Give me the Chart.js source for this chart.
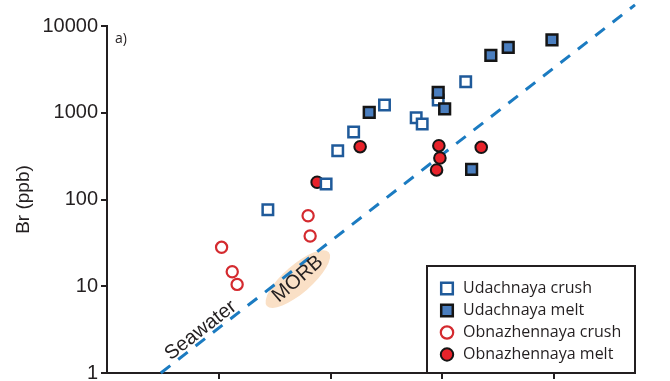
<!DOCTYPE html>
<html>
<head>
<meta charset="utf-8">
<script src="https://cdn.jsdelivr.net/npm/chart.js@4/dist/chart.umd.min.js"></script>
<style>
  html, body { margin: 0; padding: 0; background: #fff; }
  #wrap { width: 670px; height: 381px; }
</style>
</head>
<body>
<div id="wrap"><canvas id="c" width="670" height="381"></canvas></div>
<script>
// Cl (ppm) on x, Br (ppb) on y
const udachnayaCrushCl = [2.75, 9.13, 11.6, 16.1, 30.4, 58.4, 66.1, 91.9, 162];
const udachnayaCrushBr = [76, 151, 365, 600, 1230, 877, 742, 1400, 2280];

const udachnayaMeltCl = [22.2, 91.9, 105, 183, 272, 389, 958];
const udachnayaMeltBr = [1010, 1720, 1105, 223, 4600, 5680, 6900];

const obnazhCrushCl = [1.06, 1.32, 1.46, 6.3, 6.57];
const obnazhCrushBr = [28.1, 14.7, 10.5, 65, 37.9];

const obnazhMeltCl = [7.59, 18.4, 93.2, 95.2, 88.9, 223];
const obnazhMeltBr = [158, 406, 417, 301, 219, 400];

// seawater Br/Cl reference line end points
const seawaterCl = [0.303, 5300];
const seawaterBr = [1, 17500];

const yTickValues = [1, 10, 100, 1000, 10000];
const yTickLabels = ['1', '10', '100', '1000', '10000'];
const xTickValues = [1, 10, 100, 1000];

const seriesNames = ['Udachnaya crush', 'Udachnaya melt', 'Obnazhennaya crush', 'Obnazhennaya melt'];

// label anchors in data units
const morbAnchor = [5.1, 12.1];
const seawaterAnchor = [0.69, 3.1];

const INK = '#231f20';

function pairs(xs, ys) { return xs.map((v, i) => ({ x: v, y: ys[i] })); }

const styles = [
  { shape: 'rect',   fill: '#ffffff', stroke: '#1f5a9a', width: 2.5, r: 7.4 },
  { shape: 'rect',   fill: '#4a7ebf', stroke: '#151515', width: 2.5, r: 7.6 },
  { shape: 'circle', fill: '#ffffff', stroke: '#d42a2f', width: 2.2, r: 5.6 },
  { shape: 'circle', fill: '#e8232b', stroke: '#151515', width: 2.0, r: 5.8 }
];
const seriesData = [
  pairs(udachnayaCrushCl, udachnayaCrushBr),
  pairs(udachnayaMeltCl, udachnayaMeltBr),
  pairs(obnazhCrushCl, obnazhCrushBr),
  pairs(obnazhMeltCl, obnazhMeltBr)
];
// drawing order: Udachnaya melt on top, then Udachnaya crush, Obnazhennaya melt, Obnazhennaya crush
const drawOrder = [1, 0, 3, 2];

const datasets = seriesData.map((d, i) => ({
  label: seriesNames[i],
  data: d,
  pointStyle: styles[i].shape,
  pointRadius: styles[i].r,
  pointBackgroundColor: styles[i].fill,
  pointBorderColor: styles[i].stroke,
  pointBorderWidth: styles[i].width,
  showLine: false,
  order: drawOrder[i]
}));
datasets.push({
  label: 'Seawater',
  data: pairs(seawaterCl, seawaterBr),
  showLine: true,
  borderColor: '#1b7bc1',
  borderWidth: 3,
  borderDash: [12, 10],
  pointRadius: 0,
  fill: false,
  clip: false,
  order: 10
});

function drawMarker(ctx, s, x, y, r) {
  ctx.save();
  ctx.beginPath();
  if (s.shape === 'rect') {
    const h = Math.SQRT1_2 * r;
    ctx.rect(x - h, y - h, 2 * h, 2 * h);
  } else {
    ctx.arc(x, y, r, 0, Math.PI * 2);
  }
  ctx.fillStyle = s.fill;
  ctx.fill();
  ctx.lineWidth = s.width;
  ctx.strokeStyle = s.stroke;
  ctx.stroke();
  ctx.restore();
}

const decor = {
  id: 'decor',
  beforeDatasetsDraw(chart) {
    // MORB field
    const { ctx, scales: { x, y } } = chart;
    const cx = x.getPixelForValue(morbAnchor[0]);
    const cy = y.getPixelForValue(morbAnchor[1]);
    ctx.save();
    ctx.translate(cx, cy);
    ctx.rotate(-41 * Math.PI / 180);
    ctx.beginPath();
    ctx.ellipse(0, 0, 41, 14, 0, 0, Math.PI * 2);
    ctx.fillStyle = '#fae0c6';
    ctx.fill();
    ctx.restore();
  },
  afterDatasetsDraw(chart) {
    const { ctx, chartArea: a, scales: { x, y } } = chart;
    ctx.save();
    ctx.fillStyle = INK;
    ctx.textAlign = 'center';
    ctx.textBaseline = 'middle';
    // MORB label
    ctx.save();
    ctx.translate(x.getPixelForValue(morbAnchor[0]), y.getPixelForValue(morbAnchor[1]));
    ctx.rotate(-41 * Math.PI / 180);
    ctx.font = '20px "Liberation Sans", Arial, sans-serif';
    ctx.fillText('MORB', 0, 0);
    ctx.restore();
    // Seawater label
    ctx.save();
    ctx.translate(x.getPixelForValue(seawaterAnchor[0]), y.getPixelForValue(seawaterAnchor[1]));
    ctx.rotate(-37.8 * Math.PI / 180);
    ctx.font = '20px "Liberation Sans", Arial, sans-serif';
    ctx.fillText('Seawater', 0, 0);
    ctx.restore();
    // panel tag
    ctx.textAlign = 'left';
    ctx.font = '14px "Open Sans", sans-serif';
    ctx.fillText('a)', a.left + 8, a.top + 13);
    ctx.restore();
  },
  afterDraw(chart) {
    // legend box in the lower right corner of the plot
    const { ctx, chartArea: a } = chart;
    const w = 208, h = 107;
    const bx = a.right - w, by = a.bottom - h;
    ctx.save();
    ctx.fillStyle = '#fff';
    ctx.fillRect(bx, by, w, h);
    ctx.lineWidth = 2;
    ctx.strokeStyle = INK;
    ctx.strokeRect(bx, by, w, h);
    ctx.font = '16px "Open Sans", sans-serif';
    ctx.textAlign = 'left';
    ctx.textBaseline = 'middle';
    ctx.fillStyle = INK;
    seriesNames.forEach((name, i) => {
      const yy = by + 22.5 + i * 22;
      drawMarker(ctx, styles[i], bx + 20, yy, styles[i].shape === 'rect' ? 8.2 : 6.2);
      ctx.fillStyle = INK;
      ctx.fillText(name, bx + 36, yy);
    });
    ctx.restore();
  }
};

new Chart(document.getElementById('c'), {
  type: 'scatter',
  data: { datasets },
  options: {
    responsive: false,
    animation: false,
    layout: { autoPadding: false, padding: { top: 26, right: 35, bottom: 0, left: 0 } },
    plugins: { legend: { display: false }, tooltip: { enabled: false } },
    scales: {
      x: {
        type: 'logarithmic',
        min: 0.1,
        max: 5300,
        afterBuildTicks: s => { s.ticks = xTickValues.map(v => ({ value: v })); },
        afterFit: s => { s.height = 8; s.paddingLeft = 0; s.paddingRight = 0; },
        ticks: { display: false },
        grid: { drawOnChartArea: false, drawTicks: true, tickLength: 6, color: INK, lineWidth: 2 },
        border: { display: true, color: INK, width: 2 }
      },
      y: {
        type: 'logarithmic',
        min: 1,
        max: 10000,
        afterBuildTicks: s => { s.ticks = yTickValues.map(v => ({ value: v })); },
        afterFit: s => { s.width = 107; s.paddingTop = 0; s.paddingBottom = 0; },
        ticks: {
          autoSkip: false,
          padding: 3,
          color: INK,
          font: { family: '"Liberation Sans", Arial, sans-serif', size: 20 },
          callback: (v, i) => yTickLabels[i]
        },
        grid: { drawOnChartArea: false, drawTicks: true, tickLength: 6, color: INK, lineWidth: 2 },
        border: { display: true, color: INK, width: 2 },
        title: {
          display: true,
          text: 'Br (ppb)',
          color: INK,
          font: { family: '"Liberation Sans", Arial, sans-serif', size: 19 },
          padding: { top: 12, bottom: 0 }
        }
      }
    }
  },
  plugins: [decor]
});
</script>
</body>
</html>
